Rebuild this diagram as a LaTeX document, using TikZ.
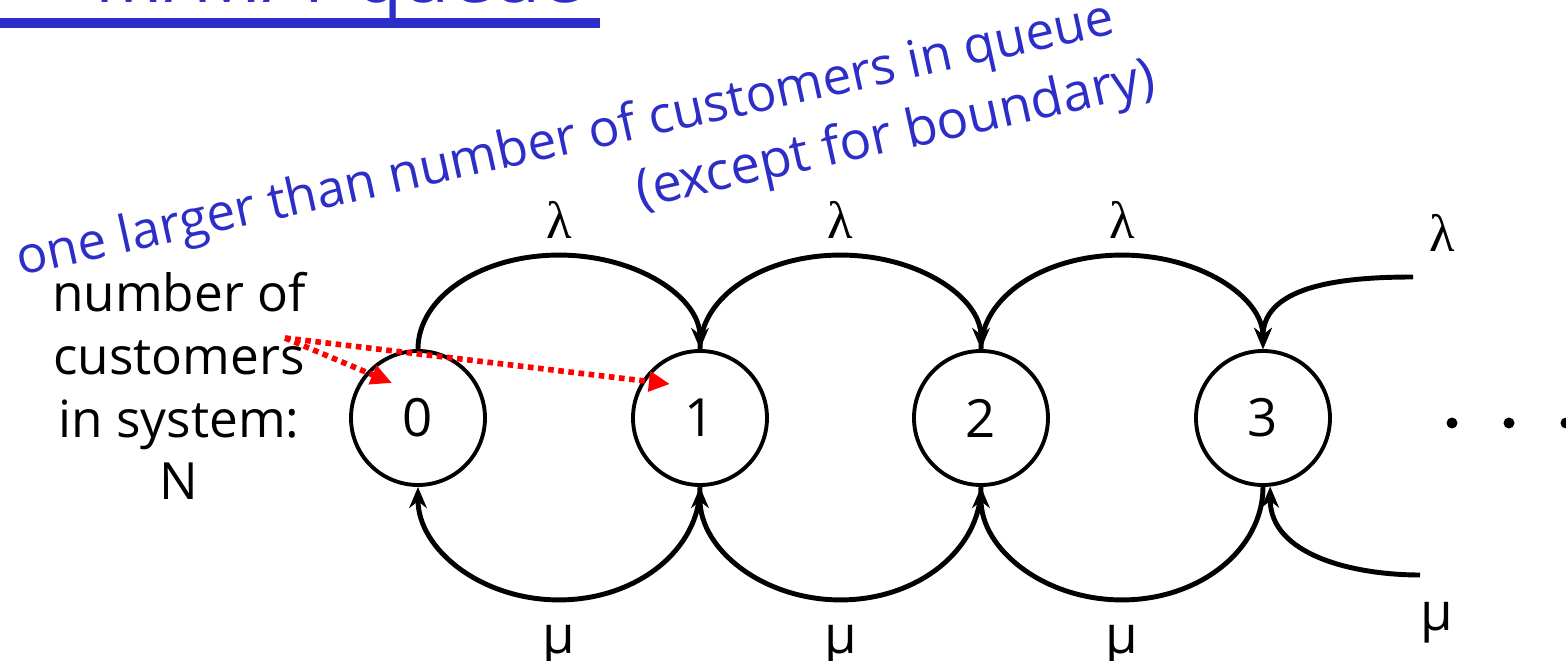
\documentclass[tikz,border=0pt]{standalone}
\usepackage{fontspec}
\setmainfont{Open Sans}
\newfontfamily\lamfont{Liberation Serif}
\usetikzlibrary{arrows.meta}
\definecolor{penblue}{RGB}{45,45,200}
\newcommand{\lam}{{\lamfont λ}}

\begin{document}
\begin{tikzpicture}[
  state/.style={circle,draw,line width=1.1pt,minimum size=1.34cm,inner sep=0pt,font=\fontsize{15}{18}\selectfont},
  trans/.style={line width=1.4pt,-{Stealth[length=6pt,width=5pt]}},
  rate/.style={inner sep=0pt,font=\fontsize{15}{18}\selectfont},
  note/.style={penblue,inner sep=0pt,rotate=12.5,font=\fontsize{14.6}{18}\selectfont},
  pointer/.style={red,line width=1.6pt,dash pattern=on 1.6pt off 1.3pt,-{Triangle[length=6pt,width=5.5pt]}}
]
  \useasboundingbox (0,0) rectangle (15.66,-6.61);
  \clip (0,0) rectangle (15.66,-6.61);

  % title, cut off at the top edge
  \node[penblue,anchor=base east,inner sep=0pt,font=\fontsize{22}{26}\selectfont] (title) at (5.85,-0.03) {M/M/1 queue};
  \draw[penblue,line width=3pt] (0,-0.23) -- (6.00,-0.23);

  % states
  \node[state] (n0) at (4.18,-4.18) {0};
  \node[state] (n1) at (7.00,-4.18) {1};
  \node[state] (n2) at (9.81,-4.18) {2};
  \node[state] (n3) at (12.63,-4.18) {3};

  % arrivals
  \draw[trans] (n0.north) arc[start angle=180,end angle=0,x radius=1.41,y radius=0.94];
  \draw[trans] (n1.north) arc[start angle=180,end angle=0,x radius=1.405,y radius=0.94];
  \draw[trans] (n2.north) arc[start angle=180,end angle=0,x radius=1.41,y radius=0.94];
  \node[rate,above=4.5pt] (lam0) at ([shift={(1.41,0.94)}]n0.north) {\lam};
  \node[rate,above=4.5pt] (lam1) at ([shift={(1.405,0.94)}]n1.north) {\lam};
  \node[rate,above=4.5pt] (lam2) at ([shift={(1.41,0.94)}]n2.north) {\lam};
  \coordinate (in3) at (14.13,-2.77);
  \draw[trans] (in3) to[out=180,in=90] (n3.north);
  \node[rate] (lam3) at (14.42,-2.33) {\lam};

  % departures
  \draw[trans] (n1.south) arc[start angle=0,end angle=-180,x radius=1.41,y radius=1.13];
  \draw[trans] (n2.south) arc[start angle=0,end angle=-180,x radius=1.405,y radius=1.13];
  \draw[trans] (n3.south) arc[start angle=0,end angle=-180,x radius=1.41,y radius=1.13];
  \node[rate,below=7pt] (mu0) at ([shift={(1.41,-1.13)}]n0.south) {μ};
  \node[rate,below=7pt] (mu1) at ([shift={(1.405,-1.13)}]n1.south) {μ};
  \node[rate,below=7pt] (mu2) at ([shift={(1.41,-1.13)}]n2.south) {μ};
  \coordinate (out3) at (14.20,-5.75);
  \draw[trans] (out3) to[out=180,in=-90] (n3.-84);
  \node[rate] (mu3) at (14.37,-6.23) {μ};

  % more states
  \fill (14.52,-4.23) circle (0.055);
  \fill (15.09,-4.23) circle (0.055);
  \fill (15.66,-4.23) circle (0.055);

  % left caption
  \node[align=center,font=\fontsize{14.6}{17.9}\selectfont] (sys) at (1.79,-3.86) {number of\\customers\\in system:\\N};

  % blue remark
  \node[note,anchor=base west] (note1) at (0.20,-2.76) {one larger than number of customers in queue};
  \node[note,anchor=base east,font=\fontsize{15}{18}\selectfont] (note2) at (11.58,-0.93) {(except for boundary)};

  % red pointers
  \coordinate (src) at (2.85,-3.38);
  \draw[pointer] (src) -- ([shift={(-0.26,0.35)}]n0.center);
  \draw[pointer] (src) -- ([shift={(-0.30,0.34)}]n1.center);
\end{tikzpicture}
\end{document}
